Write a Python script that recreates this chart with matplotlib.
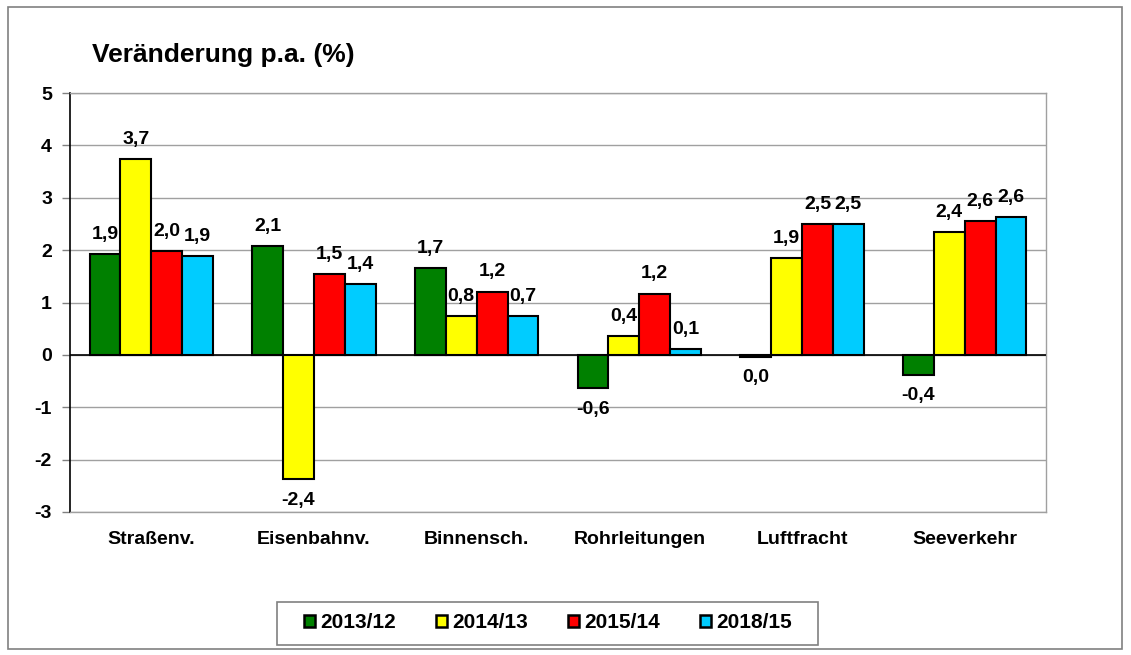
import matplotlib
matplotlib.use("Agg")
import matplotlib.pyplot as plt
import numpy as np
from matplotlib.patches import Rectangle

plt.rcParams['font.family'] = ['Liberation Sans', 'DejaVu Sans']
plt.rcParams['font.weight'] = 'bold'

categories = ["Straßenv.", "Eisenbahnv.", "Binnensch.", "Rohrleitungen", "Luftfracht", "Seeverkehr"]
series_names = ["2013/12", "2014/13", "2015/14", "2018/15"]
v2013_12 = [1.92, 2.07, 1.65, -0.64, -0.04, -0.38]
v2014_13 = [3.74, -2.37, 0.74, 0.36, 1.85, 2.35]
v2015_14 = [1.99, 1.54, 1.21, 1.17, 2.50, 2.56]
v2018_15 = [1.88, 1.36, 0.74, 0.11, 2.50, 2.63]
labels_2013_12 = ["1,9", "2,1", "1,7", "-0,6", "0,0", "-0,4"]
labels_2014_13 = ["3,7", "-2,4", "0,8", "0,4", "1,9", "2,4"]
labels_2015_14 = ["2,0", "1,5", "1,2", "1,2", "2,5", "2,6"]
labels_2018_15 = ["1,9", "1,4", "0,7", "0,1", "2,5", "2,6"]
colors = ["#008000", "#FFFF00", "#FF0000", "#00CCFF"]

all_vals = [v2013_12, v2014_13, v2015_14, v2018_15]
all_labels = [labels_2013_12, labels_2014_13, labels_2015_14, labels_2018_15]

W, H = 1131, 655
fig = plt.figure(figsize=(W / 100, H / 100), dpi=100)
# outer frame
fig.patches.append(Rectangle((8 / W, 6 / H), 1114 / W, 642 / H, transform=fig.transFigure,
                             fill=False, edgecolor="#808080", linewidth=1.2))

ax = fig.add_axes([70 / W, (H - 512) / H, (1046 - 70) / W, (512 - 93) / H])
x = np.arange(len(categories))
w = 0.19
for i, (vals, labs) in enumerate(zip(all_vals, all_labels)):
    pos = x + (i - 1.5) * w
    ax.bar(pos, vals, width=w, color=colors[i], edgecolor="black", linewidth=1.5,
           label=series_names[i], zorder=3)
    for p, v, l in zip(pos, vals, labs):
        if v >= 0:
            ax.annotate(l, (p, v), xytext=(0, 8), textcoords="offset points",
                        ha="center", va="bottom", fontsize=14, fontweight="bold")
        else:
            ax.annotate(l, (p, v), xytext=(0, -9), textcoords="offset points",
                        ha="center", va="top", fontsize=14, fontweight="bold")

ax.set_xlim(-0.5, len(categories) - 0.5)
ax.set_ylim(-3, 5)
ax.set_yticks(range(-3, 6))
ax.set_yticklabels([str(t) for t in range(-3, 6)], fontsize=14, fontweight="bold")
ax.set_xticks(x)
ax.set_xticklabels(categories, fontsize=14, fontweight="bold")
ax.tick_params(axis="x", length=0, pad=14)
ax.tick_params(axis="y", length=6, width=1, pad=7, color="#808080")
ax.yaxis.grid(True, color="#A0A0A0", linewidth=1, zorder=0)
ax.axhline(0, color="black", linewidth=1.2, zorder=4)
ax.spines["left"].set_color("black")
ax.spines["left"].set_linewidth(1.2)
for s in ["top", "right", "bottom"]:
    ax.spines[s].set_color("#A0A0A0")
    ax.spines[s].set_linewidth(1)

fig.text(92 / W, 1 - 55 / H, "Veränderung p.a. (%)", fontsize=19, fontweight="bold",
         ha="left", va="center")

# legend box
fig.patches.append(Rectangle((277 / W, 1 - 645 / H), (818 - 277) / W, 43 / H,
                             transform=fig.transFigure, fill=True, facecolor="white",
                             edgecolor="#808080", linewidth=1.2, zorder=1))
leg = fig.legend(loc="center", bbox_to_anchor=(548 / W, 1 - 623 / H), ncol=4,
                 fontsize=15, frameon=False, handlelength=0.55, handleheight=0.55,
                 handletextpad=0.25, columnspacing=1.9, borderpad=0.3)
leg.set_zorder(2)
for h in leg.legend_handles:
    h.set_linewidth(1.8)
for t in leg.get_texts():
    t.set_fontweight("bold")

fig.savefig("out.png", dpi=100)
